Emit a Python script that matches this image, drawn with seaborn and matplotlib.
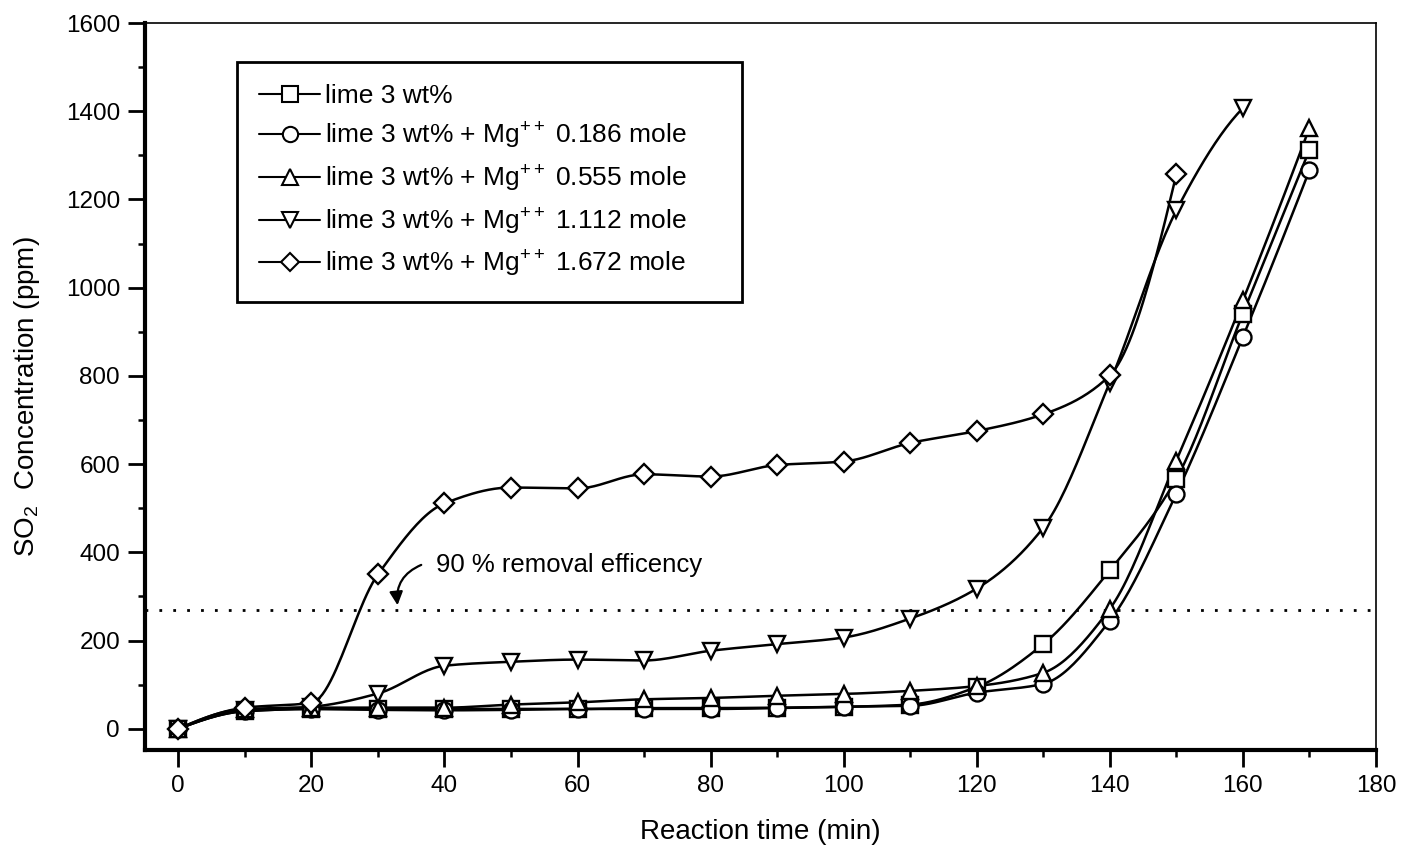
import numpy as np
import pandas as pd
import matplotlib
matplotlib.use("Agg")
import matplotlib.pyplot as plt
from matplotlib.lines import Line2D
from matplotlib.ticker import MultipleLocator
import seaborn as sns

# ---------------- data ----------------
time_full = [0, 10, 20, 30, 40, 50, 60, 70, 80, 90, 100, 110, 120, 130, 140, 150, 160, 170]
time_1112 = time_full[:17]
time_1672 = time_full[:16]

lime_3 = [0, 40, 45, 45, 45, 45, 45, 47, 47, 48, 50, 55, 95, 192, 359, 567, 941, 1312]
mg_0186 = [0, 40, 45, 43, 42, 43, 45, 45, 45, 47, 50, 52, 82, 102, 245, 533, 888, 1266]
mg_0555 = [0, 45, 48, 48, 48, 55, 60, 67, 70, 75, 79, 86, 97, 127, 272, 608, 971, 1362]
mg_1112 = [0, 42, 50, 80, 143, 152, 157, 155, 177, 192, 207, 250, 318, 456, 785, 1175, 1407]
mg_1672 = [0, 48, 59, 350, 511, 547, 545, 577, 572, 598, 606, 648, 675, 713, 801, 1257]

labels = [
    "lime 3 wt%",
    "lime 3 wt% + Mg$^{++}$ 0.186 mole",
    "lime 3 wt% + Mg$^{++}$ 0.555 mole",
    "lime 3 wt% + Mg$^{++}$ 1.112 mole",
    "lime 3 wt% + Mg$^{++}$ 1.672 mole",
]
threshold = 270
annot_text = "90 % removal efficency"
x_label = "Reaction time (min)"
y_label = "SO$_2$  Concentration (ppm)"

series = [
    (time_full, lime_3, "s"),
    (time_full, mg_0186, "o"),
    (time_full, mg_0555, "^"),
    (time_1112, mg_1112, "v"),
    (time_1672, mg_1672, "D"),
]


def smooth(x, y, n=24):
    """Monotone cubic (PCHIP-style) curve through the data points."""
    x = np.asarray(x, float)
    y = np.asarray(y, float)
    h = np.diff(x)
    d = np.diff(y) / h
    m = np.zeros_like(y)
    for i in range(1, len(y) - 1):
        if d[i - 1] * d[i] <= 0:
            m[i] = 0.0
        else:
            w1 = 2 * h[i] + h[i - 1]
            w2 = h[i] + 2 * h[i - 1]
            m[i] = (w1 + w2) / (w1 / d[i - 1] + w2 / d[i])

    def end_slope(h0, h1, d0, d1):
        s = ((2 * h0 + h1) * d0 - h0 * d1) / (h0 + h1)
        if np.sign(s) != np.sign(d0):
            s = 0.0
        elif np.sign(d0) != np.sign(d1) and abs(s) > abs(3 * d0):
            s = 3 * d0
        return s

    m[0] = end_slope(h[0], h[1], d[0], d[1])
    m[-1] = end_slope(h[-1], h[-2], d[-1], d[-2])
    xs, ys = [], []
    for i in range(len(x) - 1):
        t = np.linspace(0, 1, n, endpoint=False)
        h00 = 2 * t**3 - 3 * t**2 + 1
        h10 = t**3 - 2 * t**2 + t
        h01 = -2 * t**3 + 3 * t**2
        h11 = t**3 - t**2
        xs.append(x[i] + t * h[i])
        ys.append(h00 * y[i] + h10 * h[i] * m[i] + h01 * y[i + 1] + h11 * h[i] * m[i + 1])
    xs.append([x[-1]])
    ys.append([y[-1]])
    return np.concatenate(xs), np.concatenate(ys)


# ---------------- style ----------------
sns.set_style("ticks")
plt.rcParams["font.family"] = ["Liberation Sans", "DejaVu Sans"]
plt.rcParams["mathtext.fontset"] = "custom"
plt.rcParams["mathtext.rm"] = "Liberation Sans"
plt.rcParams["mathtext.it"] = "Liberation Sans:italic"
plt.rcParams["mathtext.bf"] = "Liberation Sans:bold"
plt.rcParams["mathtext.default"] = "regular"
for k in ("text.color", "axes.labelcolor", "xtick.color", "ytick.color",
          "xtick.labelcolor", "ytick.labelcolor"):
    plt.rcParams[k] = "black"

fig = plt.figure(figsize=(14.04, 8.52), dpi=100)
ax = fig.add_axes([0.1033, 0.1197, 0.8767, 0.8533])

for xv, yv, mk in series:
    sx, sy = smooth(xv, yv)
    df = pd.DataFrame({"t": sx, "c": sy})
    sns.lineplot(data=df, x="t", y="c", ax=ax, color="black", lw=1.8,
                 estimator=None, sort=False, zorder=2)
    ax.plot(xv, yv, ls="none", marker=mk, ms=11.5 if mk != "D" else 10,
            mfc="white", mec="black", mew=1.7, zorder=3)

ax.axhline(threshold, color="black", lw=2.0, ls=(0, (1, 4)), zorder=1)

ax.annotate("", xy=(33.0, 274), xytext=(36.9, 374),
            arrowprops=dict(arrowstyle="-|>", connectionstyle="arc3,rad=0.4",
                            color="black", lw=1.6, mutation_scale=20))
ax.text(38.8, 372, annot_text, fontsize=18.5, va="center", ha="left")

ax.set_xlim(-5, 180)
ax.set_ylim(-48, 1600)
ax.xaxis.set_major_locator(MultipleLocator(20))
ax.xaxis.set_minor_locator(MultipleLocator(10))
ax.yaxis.set_major_locator(MultipleLocator(200))
ax.yaxis.set_minor_locator(MultipleLocator(100))
ax.tick_params(which="major", length=12, width=2.0, labelsize=17.5,
               direction="out", pad=6)
ax.tick_params(which="minor", length=5, width=1.8, direction="out")

for name, sp in ax.spines.items():
    sp.set_visible(True)
    sp.set_color("black")
    sp.set_linewidth(3.0 if name in ("left", "bottom") else 1.2)

ax.set_xlabel(x_label, fontsize=20, labelpad=16)
ax.set_ylabel(y_label, fontsize=20)
ax.yaxis.set_label_coords(-0.084, 0.486)

handles = [
    Line2D([], [], color="black", lw=1.5, marker=mk,
           ms=11 if mk != "D" else 9.5, mfc="white", mec="black", mew=1.5)
    for _, _, mk in series
]
leg = ax.legend(handles, labels, loc="upper left",
                bbox_to_anchor=(0.0747, 0.6217, 0.410, 0.3247), mode="expand",
                borderaxespad=0, fontsize=19, frameon=True, fancybox=False,
                edgecolor="black", handlelength=2.3, handletextpad=0.2,
                labelspacing=0.47, borderpad=0.85)
leg.get_frame().set_linewidth(2.0)
leg.get_frame().set_alpha(1)

fig.savefig("out.png", dpi=100)
